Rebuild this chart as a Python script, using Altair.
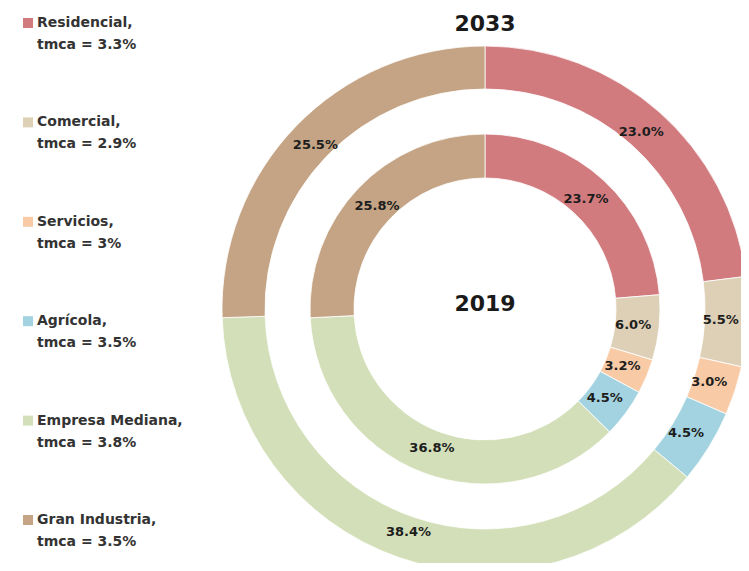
import altair as alt
import pandas as pd

categories = ["Residencial", "Comercial", "Servicios", "Agrícola", "Empresa Mediana", "Gran Industria"]
tmca = ["3.3%", "2.9%", "3%", "3.5%", "3.8%", "3.5%"]
values_2019 = [23.7, 6.0, 3.2, 4.5, 36.8, 25.8]
values_2033 = [23.0, 5.5, 3.0, 4.5, 38.4, 25.5]
colors = ["#D17B7F", "#DDD0B6", "#F8CBA6", "#A3D3E0", "#D3DFB8", "#C4A484"]
years = ["2033", "2019"]

df_in = pd.DataFrame({"cat": categories, "idx": range(6), "v": values_2019,
                      "lab": [f"{v:.1f}%" for v in values_2019]})
df_out = pd.DataFrame({"cat": categories, "idx": range(6), "v": values_2033,
                       "lab": [f"{v:.1f}%" for v in values_2033]})
df_leg = pd.DataFrame({"cat": categories, "line1": [c + "," for c in categories],
                       "line2": [f"tmca = {t}" for t in tmca]})
df_title = pd.DataFrame({"t": years})

CX, CY = 477, 301
color_scale = alt.Scale(domain=categories, range=colors)
FONT = "DejaVu Sans"


def ring(df, r_in, r_out, r_lab):
    base = alt.Chart(df).encode(
        theta=alt.Theta("v:Q", stack=True),
        order=alt.Order("idx:Q", sort="ascending"),
        x=alt.value(CX), y=alt.value(CY),
    )
    arc = base.mark_arc(innerRadius=r_in, outerRadius=r_out, stroke="white", strokeWidth=0.8).encode(
        color=alt.Color("cat:N", scale=color_scale, legend=None)
    )
    txt = base.mark_text(radius=r_lab, font=FONT, fontWeight="bold", fontSize=13, color="#1d1d1d").encode(
        text="lab:N", detail="cat:N"
    )
    return [arc, txt]


layers = ring(df_out, 220, 263, 236) + ring(df_in, 131, 175, 149)

leg_y = alt.Y("cat:N", scale=alt.Scale(domain=categories, range=[15, 512], padding=0), axis=None)
leg_sq = alt.Chart(df_leg).mark_square(size=100, opacity=1).encode(
    x=alt.value(20), y=leg_y,
    color=alt.Color("cat:N", scale=color_scale, legend=None),
)
leg_t1 = alt.Chart(df_leg).mark_text(align="left", baseline="middle", font=FONT, fontWeight="bold",
                                     fontSize=14, color="#333333").encode(
    x=alt.value(29), y=leg_y, text="line1:N")
leg_t2 = alt.Chart(df_leg).mark_text(align="left", baseline="middle", font=FONT, fontWeight="bold",
                                     fontSize=14, color="#333333", dy=22).encode(
    x=alt.value(29), y=leg_y, text="line2:N")

title_33 = alt.Chart(df_title).transform_filter("datum.t == '2033'").mark_text(
    font=FONT, fontWeight="bold", fontSize=22, color="#1a1a1a", baseline="middle").encode(
    x=alt.value(CX), y=alt.value(16), text="t:N")
title_19 = alt.Chart(df_title).transform_filter("datum.t == '2019'").mark_text(
    font=FONT, fontWeight="bold", fontSize=22, color="#1a1a1a", baseline="middle").encode(
    x=alt.value(CX), y=alt.value(296), text="t:N")

chart = alt.layer(*layers, leg_sq, leg_t1, leg_t2, title_33, title_19).resolve_scale(
    theta="independent"
).properties(
    width=733, height=555, padding=0,
    autosize=alt.AutoSizeParams(type="none"),
    background="white",
).configure_view(strokeWidth=0)

chart.save("out.html", embed_options={"renderer": "svg", "actions": False})
